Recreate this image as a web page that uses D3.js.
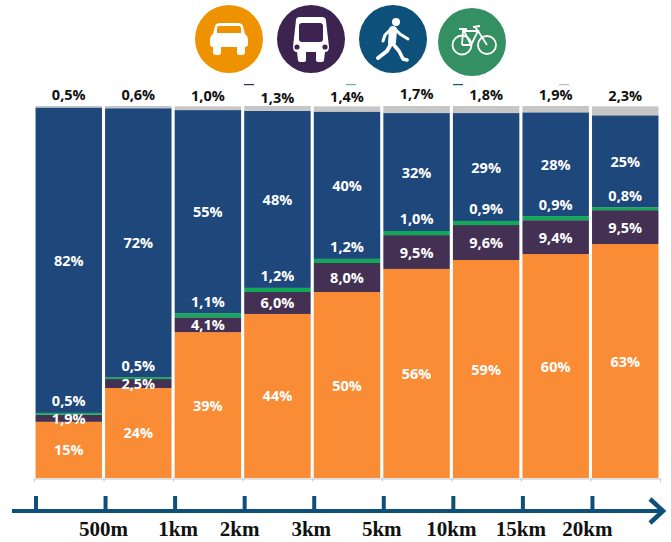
<!DOCTYPE html>
<html>
<head>
<meta charset="utf-8">
<script src="https://cdn.jsdelivr.net/npm/d3@7"></script>
<style>
html, body { margin: 0; padding: 0; background: #fff; }
svg { display: block; }
.val { font-family: "Open Sans", sans-serif; font-weight: 700; font-size: 14.5px; text-anchor: middle; dominant-baseline: central; }
.dist { font-family: "Liberation Serif", serif; font-weight: 700; font-size: 21px; text-anchor: middle; }
</style>
</head>
<body>
<div id="chart"></div>
<script>
// ticks along the arrow
const distances = ["", "500m", "1km", "2km", "3km", "5km", "10km", "15km", "20km"];
const bins = ["b1", "b2", "b3", "b4", "b5", "b6", "b7", "b8", "b9"];

// shares in percent
const car = [15.1, 24.2, 39.2, 44.1, 50, 56.2, 58.6, 60.2, 62.9];
const bus = [1.9, 2.4, 4, 5.9, 7.8, 9.1, 9.4, 9.1, 9.1];
const bike = [0.5, 0.5, 1.1, 1.1, 1.1, 1.1, 1.1, 1.1, 0.8];
const walk = [82.1, 72.3, 54.6, 47.6, 39.6, 31.7, 29, 27.9, 24.7];
const other = [0.4, 0.6, 1, 1.3, 1.4, 1.9, 1.9, 1.7, 2.4];

// the labels printed on the chart
const carLabels = ["15%", "24%", "39%", "44%", "50%", "56%", "59%", "60%", "63%"];
const busLabels = ["1,9%", "2,5%", "4,1%", "6,0%", "8,0%", "9,5%", "9,6%", "9,4%", "9,5%"];
const bikeLabels = ["0,5%", "0,5%", "1,1%", "1,2%", "1,2%", "1,0%", "0,9%", "0,9%", "0,8%"];
const walkLabels = ["82%", "72%", "55%", "48%", "40%", "32%", "29%", "28%", "25%"];
const otherLabels = ["0,5%", "0,6%", "1,0%", "1,3%", "1,4%", "1,7%", "1,8%", "1,9%", "2,3%"];

const keys = ["car", "bus", "bike", "walk", "other"];
const colors = { car: "#f98c34", bus: "#433053", bike: "#0fa958", walk: "#1e477c", other: "#c6c6c6" };

const width = 671, height = 542;
const plotTop = 106, plotBottom = 478;
const axisY = 511;

// hand placed labels in the original
const topNudge = [0, 0, 1, 3, 2, -1, 0, 0, 1];
const distNudge = [0, 0, 5, -3, -1, 0, 0, 0, -3];

const rows = bins.map((b, i) => ({ bin: b, car: car[i], bus: bus[i], bike: bike[i], walk: walk[i], other: other[i] }));
const series = d3.stack().keys(keys)(rows);

const svg = d3.select("#chart").append("svg").attr("width", width).attr("height", height);

const x = d3.scaleBand().domain(bins).range([34, 660]).paddingInner(0.045).paddingOuter(0.022);
const y = d3.scaleLinear().domain([0, 100]).range([plotBottom, plotTop]);

svg.append("g")
    .selectAll("g")
    .data(series)
    .enter()
    .append("g")
    .attr("fill", d => colors[d.key])
    .selectAll("rect")
    .data(d => d)
    .enter()
    .append("rect")
    .attr("x", d => x(d.data.bin))
    .attr("y", d => y(d[1]))
    .attr("width", x.bandwidth())
    .attr("height", d => y(d[0]) - y(d[1]));

// thin grey axis under the bars
const edges = d3.scaleLinear().domain([0, bins.length]).range([34, 660]);
svg.append("g")
    .attr("transform", `translate(0,${plotBottom + 0.5})`)
    .call(d3.axisBottom(edges).tickValues(d3.range(0, bins.length + 1)).tickSize(3).tickFormat(""))
    .call(g => g.selectAll("path, line").attr("stroke", "#c4c4c4").attr("stroke-width", 1));

// labels inside the bars
const cx = i => x(bins[i]) + x.bandwidth() / 2;
const mid = (k, i) => { const s = series[keys.indexOf(k)][i]; return (y(s[0]) + y(s[1])) / 2; };
const labels = svg.append("g").attr("fill", "#fff");

function addLabels(list, yFn, fill) {
    labels.selectAll(null)
        .data(list)
        .enter()
        .append("text")
        .attr("class", "val")
        .attr("x", (d, i) => cx(i))
        .attr("y", (d, i) => yFn(i))
        .attr("fill", fill || "#fff")
        .text(d => d);
}
addLabels(carLabels, i => mid("car", i));
addLabels(busLabels, i => mid("bus", i));
addLabels(bikeLabels, i => y(series[2][i][1]) - 12);
addLabels(walkLabels, i => mid("walk", i));
addLabels(otherLabels, i => 94 + topNudge[i], "#111");

// blue arrow
const arrow = svg.append("g").attr("stroke", "#0d5079").attr("fill", "none");
arrow.append("line").attr("x1", 12).attr("x2", 663).attr("y1", axisY).attr("y2", axisY).attr("stroke-width", 4);
arrow.append("path").attr("d", `M650,${axisY - 12}L663,${axisY}L650,${axisY + 12}`).attr("stroke-width", 4.5);
arrow.selectAll(".tick")
    .data(distances)
    .enter()
    .append("line")
    .attr("x1", (d, i) => edges(i) + 2)
    .attr("x2", (d, i) => edges(i) + 2)
    .attr("y1", axisY - 15)
    .attr("y2", axisY)
    .attr("stroke-width", 4);

svg.append("g")
    .selectAll("text")
    .data(distances)
    .enter()
    .append("text")
    .attr("class", "dist")
    .attr("x", (d, i) => edges(i) + distNudge[i])
    .attr("y", 536)
    .attr("fill", "#111")
    .text(d => d);

// mode icons
function badge(cxx, cyy, col) {
    const g = svg.append("g").attr("transform", `translate(${cxx},${cyy})`);
    g.append("circle").attr("r", 34).attr("fill", col);
    return g;
}

const carIcon = badge(229, 39, "#ee9200");
carIcon.append("path").attr("fill", "#fff")
    .attr("d", "M-14,-13Q-13,-16 -9,-16L9,-16Q13,-16 14,-13L16,-5Q19,-3 19,0L19,5Q19,8 16,8L16,13Q16,16 13,16L10,16Q8,16 8,13L8,8L-8,8L-8,13Q-8,16 -10,16L-13,16Q-16,16 -16,13L-16,8Q-19,8 -19,5L-19,0Q-19,-3 -16,-5Z");
carIcon.append("path").attr("fill", "#ee9200").attr("d", "M-10,-13L10,-13Q12,-13 12,-10L12,-6L-12,-6L-12,-10Q-12,-13 -10,-13Z");

const busIcon = badge(311, 39, "#3d2350");
busIcon.append("path").attr("fill", "#fff")
    .attr("d", "M-15,-19Q-15,-22 -11,-22L11,-22Q15,-22 15,-18L18,8Q18,13 14,13L13,21Q13,23 10,23L8,23Q5,23 5,21L5,13L-5,13L-5,21Q-5,23 -8,23L-10,23Q-13,23 -13,21L-14,13Q-18,13 -18,8Z");
busIcon.append("rect").attr("x", -12).attr("y", -16).attr("width", 24).attr("height", 19).attr("rx", 3).attr("fill", "#3d2350");
busIcon.append("circle").attr("cx", -14).attr("cy", 8).attr("r", 2.6).attr("fill", "#3d2350");
busIcon.append("circle").attr("cx", 14).attr("cy", 8).attr("r", 2.6).attr("fill", "#3d2350");

const walkIcon = badge(393, 39, "#0d5079");
walkIcon.append("circle").attr("cx", 3).attr("cy", -17).attr("r", 4).attr("fill", "#fff");
const walker = walkIcon.append("g").attr("fill", "none").attr("stroke", "#fff").attr("stroke-linecap", "round").attr("stroke-linejoin", "round");
walker.append("path").attr("d", "M0,-9L-1,3").attr("stroke-width", 8);
walker.append("path").attr("d", "M1,-11L7,-5L15,0M-2,-10L-8,-4L-10,2").attr("stroke-width", 3);
walker.append("path").attr("d", "M-2,5L-6,12L-15,19").attr("stroke-width", 4);
walker.append("path").attr("d", "M0,5L6,12L10,20L14,21").attr("stroke-width", 3.6);

const bikeIcon = badge(472, 42, "#348f63");
const bikeLines = bikeIcon.append("g").attr("fill", "none").attr("stroke", "#fff").attr("stroke-width", 1.8);
bikeLines.append("circle").attr("cx", -10).attr("cy", 3).attr("r", 9.5);
bikeLines.append("circle").attr("cx", 15).attr("cy", 3).attr("r", 9);
bikeLines.append("path").attr("d", "M-10,3L-9,-11L6,-11L-1,3L-10,3M-9,-13L-1,3M3,-15L6,-11L15,3M-13,-13L-5,-13M1,-15L8,-16");

// slivers of other artwork poking out above the top labels
const slivers = [[249, "#3d2350"], [351, "#5fb7a4"], [458, "#0d5079"], [564, "#bcbcbc"]];
svg.append("g").selectAll("rect").data(slivers).enter().append("rect")
    .attr("x", d => d[0] - 5).attr("y", 84).attr("width", 10).attr("height", 1.2).attr("fill", d => d[1]);
</script>
</body>
</html>
